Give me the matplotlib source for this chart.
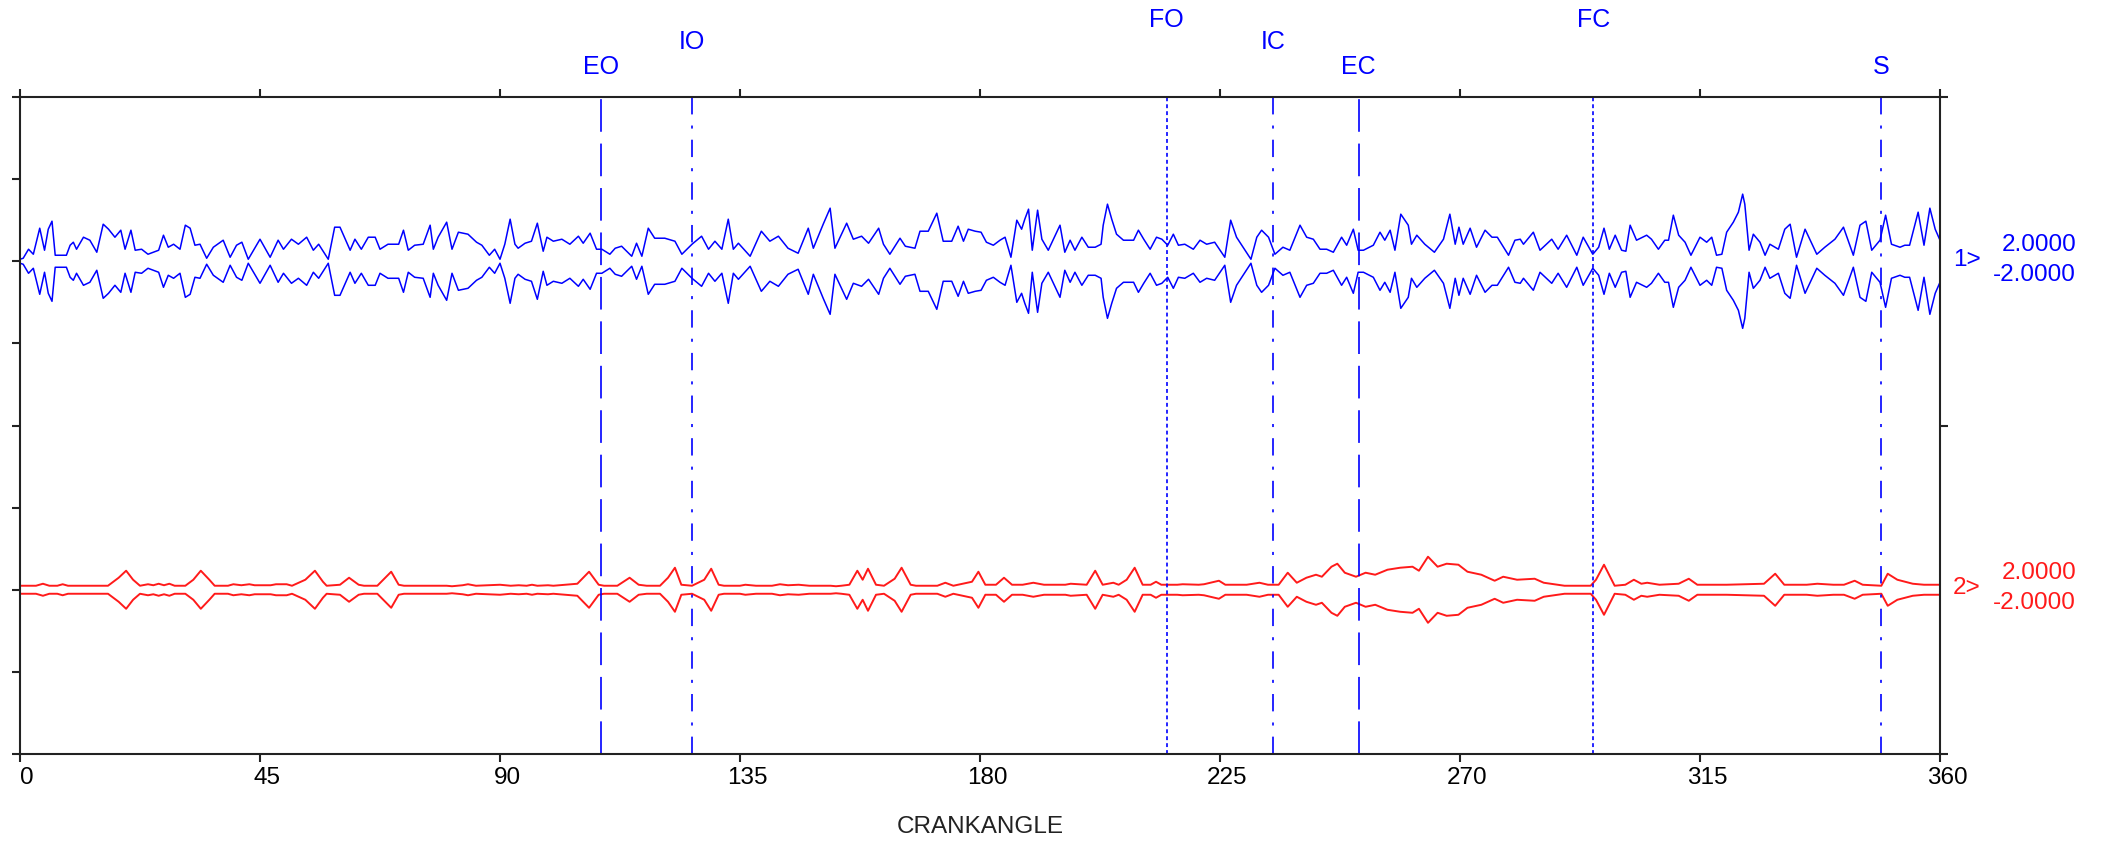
import matplotlib

matplotlib.use("Agg")
import matplotlib.pyplot as plt
import matplotlib.transforms as mtransforms
import numpy as np

plt.rcParams.update(
    {
        "font.family": ["Liberation Sans", "DejaVu Sans"],
        "font.size": 17.5,
        "lines.scale_dashes": False,
        "axes.linewidth": 1.5,
    }
)

BLUE = "#0000ff"
RED = "#ff1a1a"
FS = 17.5

# crank angle positions of the valve / spark events
events = ["EO", "IO", "FO", "IC", "EC", "FC", "S"]
event_deg = [109, 126, 215, 235, 251, 295, 349]
event_style = ["dash", "dashdot", "dot", "dashdot", "dash", "dot", "dashdot"]
event_row = [2, 1, 0, 1, 2, 0, 2]  # label height level

# channel 1 envelope (amplitude counts, 82 counts = one division)
ch1_deg = [
    0.0, 0.6, 1.6, 2.5, 3.7, 4.6, 5.3, 6.0, 6.6, 7.5, 8.7, 9.4, 10.0, 10.6, 11.9,
    13.1, 14.4, 15.6, 16.6, 17.8, 18.9, 19.7, 20.8, 21.6, 22.8, 24.0, 26.0, 26.9,
    27.8, 28.8, 30.0, 31.0, 31.9, 32.8, 33.75, 35.0, 36.25, 38.1, 39.4, 40.6, 41.6,
    42.8, 45.0, 46.9, 48.4, 49.4, 50.9, 52.2, 53.75, 55.0, 56.0, 57.8, 59.0, 60.0,
    61.25, 61.9, 62.8, 64.0, 65.3, 66.6, 67.5, 69.0, 71.0, 71.9, 72.8, 74.0, 75.6,
    76.9, 77.5, 78.4, 80.0, 81.0, 82.2, 84.0, 85.6, 86.6, 88.0, 89.0, 90.0, 90.9,
    91.9, 92.8, 93.4, 94.7, 95.9, 97.0, 98.1, 98.8, 100.0, 101.6, 103.1, 104.7,
    105.6, 106.9, 108.1, 109.1, 110.6, 111.6, 112.8, 114.7, 115.6, 116.6, 117.8,
    119.0, 120.9, 122.8, 124.1, 126.0, 127.8, 129.1, 130.3, 131.6, 132.8, 133.75,
    134.7, 136.9, 139.0, 140.6, 142.2, 144.0, 145.9, 147.8, 148.75, 150.6, 151.9,
    152.8, 155.0, 156.25, 157.8, 159.1, 161.0, 161.9, 163.1, 165.0, 166.0, 167.8,
    168.75, 170.3, 171.9, 173.1, 174.7, 175.9, 176.9, 177.8, 179.1, 180.2, 181.2,
    182.5, 183.75, 184.7, 185.8, 186.9, 187.8, 188.4, 189.1, 189.8, 190.8, 191.6,
    192.8, 195.0, 195.9, 196.9, 197.8, 199.1, 200.3, 201.6, 202.7, 203.1, 203.9,
    204.7, 205.6, 206.9, 208.8, 209.7, 210.7, 211.9, 213.1, 214.1, 215.2, 216.25,
    217.2, 218.4, 220.0, 221.25, 222.5, 224.0, 225.9, 227.0, 228.1, 229.7, 230.8,
    231.9, 232.8, 234.1, 235.3, 236.8, 238.1, 240.0, 241.25, 242.5, 243.75, 245.0,
    246.25, 247.8, 248.75, 250.0, 250.9, 251.9, 253.75, 255.0, 255.9, 256.9, 257.8,
    258.9, 260.3, 260.9, 261.9, 263.4, 265.2, 266.9, 268.1, 269.1, 269.8, 270.6,
    271.9, 273.1, 274.7, 276.0, 277.0, 279.1, 280.3, 281.3, 281.9, 283.75, 285.0,
    287.2, 288.4, 290.0, 291.9, 293.1, 294.9, 296.0, 297.0, 298.0, 299.1, 300.3,
    301.1, 301.9, 303.1, 305.0, 305.9, 307.2, 308.4, 309.1, 310.0, 311.0, 312.2,
    313.3, 315.0, 316.25, 317.2, 318.1, 319.1, 320.0, 321.25, 322.2, 323.0, 323.4,
    324.2, 325.0, 326.25, 327.2, 328.1, 329.7, 330.9, 331.9, 333.1, 334.7, 336.9,
    338.4, 340.3, 341.9, 343.75, 345.0, 346.1, 347.2, 348.75, 349.8, 350.9, 352.5,
    353.4, 354.3, 355.9, 357.0, 358.1, 359.1, 360.0,
]
ch1_amp = [
    2, 3, 12, 7, 33, 11, 32, 40, 6, 6, 6, 16, 19, 12, 24,
    21, 9, 37, 32, 24, 31, 12, 31, 11, 12, 7, 11, 26,
    14, 17, 12, 36, 33, 16, 17, 3, 14, 21, 4, 16, 19,
    2, 22, 4, 21, 12, 22, 17, 24, 11, 17, 2, 34, 34,
    19, 11, 22, 12, 24, 24, 12, 17, 17, 31, 11, 16, 17,
    36, 12, 24, 39, 12, 29, 27, 19, 16, 6, 12, 2, 17,
    42, 17, 13, 18, 20, 38, 10, 24, 20, 22, 17, 25,
    18, 28, 12, 12, 7, 13, 15, 5, 18, 5, 33,
    23, 23, 20, 7, 17, 25, 12, 20, 12, 42, 12,
    18, 5, 30, 20, 25, 13, 8, 33, 13, 37, 53,
    13, 38, 22, 25, 18, 33, 17, 7, 23, 15, 13,
    30, 30, 48, 20, 20, 35, 20, 32, 30, 29, 19,
    16, 21, 24, 4, 41, 32, 42, 52, 11, 51, 22,
    11, 36, 9, 21, 11, 24, 14, 14, 17, 36, 57,
    42, 27, 21, 21, 31, 22, 12, 24, 22, 16, 27,
    16, 17, 12, 21, 17, 19, 4, 41, 24, 11, 2,
    24, 31, 24, 7, 14, 11, 36, 24, 22, 12, 12,
    9, 24, 16, 32, 11, 11, 16, 29, 21, 31, 11,
    47, 36, 17, 26, 17, 9, 22, 47, 17, 34, 17,
    33, 14, 31, 24, 24, 6, 21, 22, 17, 29, 11,
    22, 12, 26, 6, 24, 7, 14, 33, 12, 26, 11,
    10, 36, 21, 26, 22, 12, 21, 21, 46, 26, 19,
    6, 24, 19, 24, 6, 7, 29, 39, 49, 67, 57,
    11, 27, 19, 6, 17, 12, 32, 37, 4, 32, 7,
    14, 22, 34, 6, 36, 40, 11, 21, 46, 17, 14,
    16, 16, 49, 16, 53, 32, 21,
]

# channel 2 envelope (same units)
ch2_deg = [
    0, 3, 4.3, 5.5, 7, 8, 9, 12, 16.5, 18.5, 19.9, 21.2, 22.5, 24, 25, 26, 27, 28,
    29, 31, 32.5, 33.9, 35.5, 36.5, 39, 40, 41.5, 43, 44, 47, 48, 50, 51, 53.5,
    55.3, 56.8, 57.5, 60, 61.7, 63.5, 64.5, 67, 68.5, 69.6, 71, 72, 80, 81, 83,
    84, 85.5, 88, 90, 92, 93.5, 95, 96, 97, 99, 100, 104.5, 106.7, 108.5, 109.5,
    112, 114.3, 116, 117.5, 120, 121.5, 122.8, 124, 126, 128.3, 129.6, 131, 132,
    135, 136, 138, 141, 142.5, 144, 146, 148, 152, 153, 154, 155.5, 157, 158, 159,
    160.5, 162, 164, 165.3, 167, 168, 172, 173.5, 175, 178.5, 179.7, 181, 183,
    184.5, 186, 188, 190, 192, 196, 197, 200, 201.6, 203, 205, 206, 207.5, 209,
    210.5, 212, 213, 214, 217, 218, 221, 222, 224.8, 226, 230, 232.4, 234, 236,
    237.7, 239.4, 241.2, 243, 244.1, 245.9, 247, 248.4, 250.5, 252.3, 254.1,
    256.4, 258.8, 261.1, 262.3, 264, 265.8, 267.5, 269.7, 271.4, 274, 276.5,
    278.1, 280.7, 284, 285.7, 289.6, 294.5, 295.5, 297, 299, 301, 302.6, 304,
    305.1, 307.4, 311, 312.9, 314.5, 320, 327, 329.1, 330.8, 335, 337, 340, 342,
    344, 345.5, 349, 350.2, 352, 354.9, 357, 360,
]
ch2_amp = [
    4, 4, 6, 4, 4, 5.5, 4, 4, 4, 12, 19, 10, 4, 5.5, 4.5, 6, 4.5, 6,
    4, 4, 10, 19, 10, 4, 4, 5.5, 4.5, 5.5, 4.5, 4.5, 5.5, 5.5, 4, 10,
    19, 8, 4, 5, 12, 5, 4, 4, 12, 18, 5, 4, 4, 3.5, 4.5,
    5.5, 4, 4.5, 5, 4, 4.5, 4, 5, 4, 4.5, 4, 6, 18, 5, 4,
    4, 12, 5, 4, 4, 12, 22, 5, 4, 10, 21, 5, 4,
    4, 5, 4, 4, 5.5, 4.5, 5, 4, 4, 3.5, 4, 5, 19, 10, 21,
    5, 4, 11, 22, 5, 4, 4, 7, 4, 8, 18, 5, 5,
    12, 5, 5, 7, 5, 5, 6, 5, 19, 5, 7, 5, 10, 22,
    5, 5, 8, 5, 5, 5.5, 5, 5.5, 9, 5, 5, 7, 5, 5,
    17, 7, 12, 15, 13, 23, 26, 17, 13, 17, 15,
    20, 22, 23, 19, 33, 23, 26, 25, 18, 15, 9,
    13, 10, 11, 7, 4, 4, 10, 25, 4, 5, 10, 6,
    7, 5, 6, 11, 5, 5, 6, 16, 5, 5, 6, 5, 5,
    9, 5, 4, 16, 10, 6, 5, 5,
]

COUNTS_PER_DIV = 82.0
CH1_CENTER = 6.0
CH2_CENTER = 2.0

DASHES = {
    "dash": (0, (23.5, 8.5)),
    "dashdot": (0, (12.5, 8.0, 2.2, 8.0)),
    "dot": (0, (2.8, 2.2)),
}

W, H = 2105, 841
fig = plt.figure(figsize=(W / 100, H / 100), dpi=100)
ax = fig.add_axes([20 / W, 1 - 754 / H, 1920 / W, 657 / H])

a1 = np.array(ch1_amp) / COUNTS_PER_DIV
a2 = np.array(ch2_amp) / COUNTS_PER_DIV
ax.plot(ch1_deg, CH1_CENTER + a1, color=BLUE, lw=1.1)
ax.plot(ch1_deg, CH1_CENTER - a1, color=BLUE, lw=1.1)
ax.plot(ch2_deg, CH2_CENTER + a2, color=RED, lw=1.4)
ax.plot(ch2_deg, CH2_CENTER - a2, color=RED, lw=1.4)

label_y = [20, 42, 67]  # pixel rows from the top of the figure
lab_tr = mtransforms.blended_transform_factory(ax.transData, fig.transFigure)
for name, deg, style, row in zip(events, event_deg, event_style, event_row):
    ax.axvline(deg, color=BLUE, lw=1.2, linestyle=DASHES[style])
    ax.text(deg, 1 - label_y[row] / H, name, transform=lab_tr, color=BLUE,
            ha="center", va="center", fontsize=FS + 0.5, clip_on=False)

ax.set_xlim(0, 360)
ax.set_ylim(0, 8)
ax.set_xticks(range(0, 361, 45))
ax.set_yticks(range(0, 9))
ax.set_yticklabels([])
ax.tick_params(axis="both", direction="out", length=6, width=1.5,
               color="#222222", labelsize=FS, pad=3)
ax.tick_params(axis="x", top=True, labeltop=False)
shift = mtransforms.ScaledTranslation(7 / 100, 0, fig.dpi_scale_trans)
for lbl in ax.get_xticklabels():
    lbl.set_transform(lbl.get_transform() + shift)
for sp in ax.spines.values():
    sp.set_color("#222222")

axr = ax.twinx()
axr.set_ylim(0, 8)
axr.set_yticks([0, 4, 8])
axr.set_yticklabels([])
axr.tick_params(direction="out", length=6, width=1.5, color="#222222")
for sp in axr.spines.values():
    sp.set_visible(False)

fig.text(980 / W, 1 - 827 / H, "CRANKANGLE", ha="center", va="center",
         fontsize=FS, color="#222222")

# channel scale labels on the right
for ch, center_px, color in [("1>", 260, BLUE), ("2>", 588, RED)]:
    fig.text(1953 / W, 1 - center_px / H, ch, color=color, ha="left",
             va="center", fontsize=FS)
    fig.text(2002 / W, 1 - (center_px - 15) / H, "2.0000", color=color,
             ha="left", va="center", fontsize=FS)
    fig.text(1993 / W, 1 - (center_px + 15) / H, "-2.0000", color=color,
             ha="left", va="center", fontsize=FS)

fig.savefig("out.png", dpi=100, facecolor="white")
